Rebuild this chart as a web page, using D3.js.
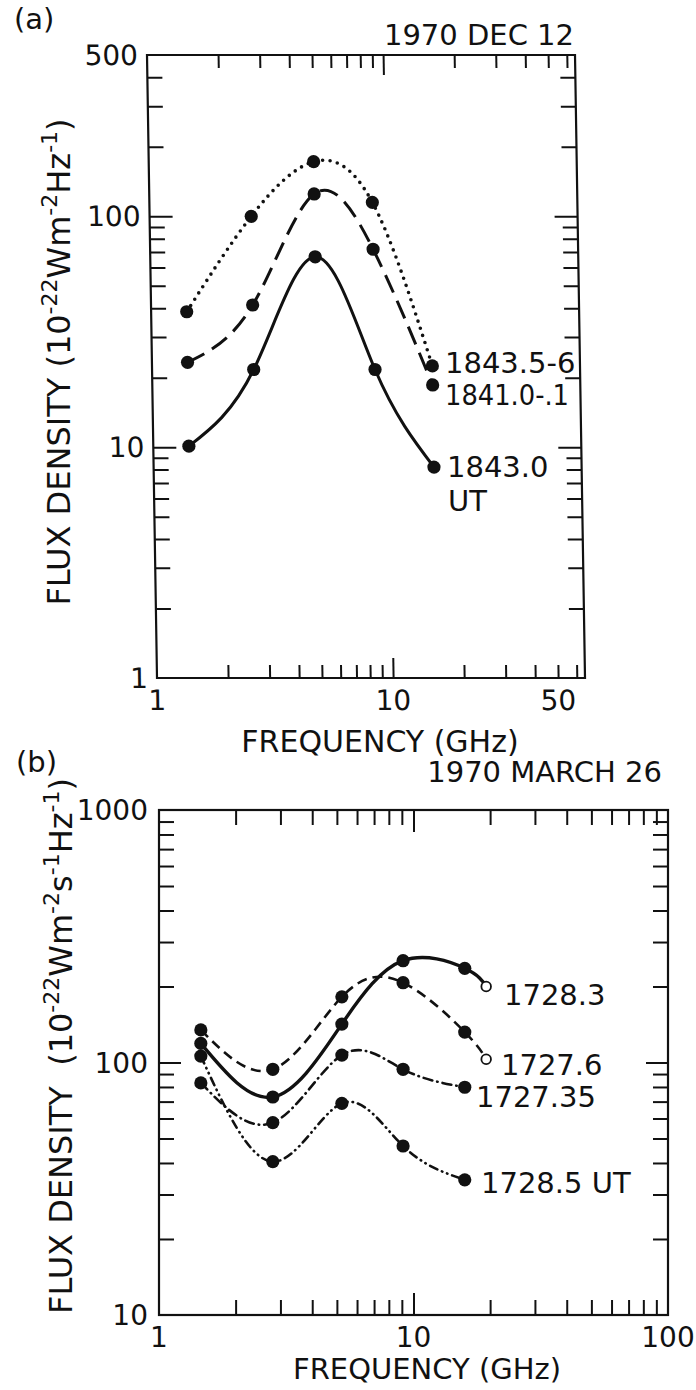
<!DOCTYPE html>
<html>
<head>
<meta charset="utf-8">
<script src="https://cdn.jsdelivr.net/npm/d3@7"></script>
<style>
  body { margin: 0; background: #fff; }
  svg { display: block; }
  text { font-family: "DejaVu Sans", "Liberation Sans", sans-serif; fill: #111; }
</style>
</head>
<body>
<div class="chart"></div>
<script>
// panel (a) 1970 Dec 12
var freqA = [1.415, 2.695, 4.995, 8.8, 15.4];
var flux1843_5 = [38.6, 100, 172.5, 115, 22.5];
var flux1841_0 = [23.3, 41.3, 125, 72, 18.6];
var flux1843_0 = [10.1, 21.7, 66.8, 21.7, 8.2];
var labelsA = ["1843.5-6", "1841.0-.1", "1843.0"];

// panel (b) 1970 March 26
var freqB = [1.46, 2.8, 5.23, 9.1, 15.9];
var freqBOpen = 19.3;
var flux1728_3 = [119, 73, 142, 253, 236];
var flux1727_6 = [134.6, 94, 182, 207, 132];
var flux1727_35 = [83, 57.8, 107, 94, 79.8];
var flux1728_5 = [106, 40.5, 68.9, 46.7, 34.3];
var open1728_3 = 200;
var open1727_6 = 103;
var labelsB = ["1728.3", "1727.6", "1727.35", "1728.5 UT"];

var xTicksA = [1, 10, 50];
var yTicksA = [1, 10, 100, 500];
var xTicksB = [1, 10, 100];
var yTicksB = [10, 100, 1000];

var svgWidth = 696;
var svgHeight = 1390;

var svg = d3.select(".chart")
  .append("svg")
  .attr("width", svgWidth)
  .attr("height", svgHeight);

function minors(lo, hi) {
  var out = [];
  for (var p = Math.floor(Math.log10(lo)); p <= Math.ceil(Math.log10(hi)); p++) {
    for (var m = 2; m <= 9; m++) {
      var v = m * Math.pow(10, p);
      if (v > lo * 1.0001 && v < hi * 0.9999) out.push(v);
    }
  }
  return out;
}

function decades(lo, hi) {
  var out = [];
  for (var p = Math.ceil(Math.log10(lo)); Math.pow(10, p) <= hi; p++) {
    var v = Math.pow(10, p);
    if (v > lo * 1.0001 && v < hi * 0.9999) out.push(v);
  }
  return out;
}

// inward ticks on all four sides
function drawFrame(g, x, y, w, h, minX, majX, minY, majY) {
  var xd = x.domain(), yd = y.domain();
  var sets = [
    [d3.axisBottom(x), minors(xd[0], xd[1]), -minX, "translate(0," + h + ")"],
    [d3.axisBottom(x), decades(xd[0], xd[1]), -majX, "translate(0," + h + ")"],
    [d3.axisTop(x), minors(xd[0], xd[1]), -minX, "translate(0,0)"],
    [d3.axisTop(x), decades(xd[0], xd[1]), -majX, "translate(0,0)"],
    [d3.axisLeft(y), minors(yd[0], yd[1]), -minY, "translate(0,0)"],
    [d3.axisLeft(y), decades(yd[0], yd[1]), -majY, "translate(0,0)"],
    [d3.axisRight(y), minors(yd[0], yd[1]), -minY, "translate(" + w + ",0)"],
    [d3.axisRight(y), decades(yd[0], yd[1]), -majY, "translate(" + w + ",0)"]
  ];
  sets.forEach(function(s) {
    var ax = g.append("g")
      .attr("transform", s[3])
      .call(s[0].tickValues(s[1]).tickSize(s[2]).tickFormat(""));
    ax.select(".domain").remove();
    ax.selectAll("line").attr("stroke", "#111").attr("stroke-width", 2);
  });
  g.append("rect")
    .attr("width", w)
    .attr("height", h)
    .attr("fill", "none")
    .attr("stroke", "#111")
    .attr("stroke-width", 2.2);
}

function drawSeries(g, x, y, freqs, vals, style) {
  var pts = freqs.map(function(f, i) { return [x(f), y(vals[i])]; });
  if (style.open) pts.push([x(style.open[0]), y(style.open[1])]);
  var line = d3.line().curve(d3.curveNatural);
  g.append("path")
    .attr("d", line(pts))
    .attr("fill", "none")
    .attr("stroke", "#111")
    .attr("stroke-width", style.width)
    .attr("stroke-dasharray", style.dash)
    .attr("stroke-linecap", style.cap || "butt");
  g.selectAll(null)
    .data(freqs)
    .enter()
    .append("circle")
    .attr("cx", function(d) { return x(d); })
    .attr("cy", function(d, i) { return y(vals[i]); })
    .attr("r", 6.6)
    .attr("fill", "#111");
  if (style.open) {
    g.append("circle")
      .attr("cx", x(style.open[0]))
      .attr("cy", y(style.open[1]))
      .attr("r", 4.8)
      .attr("fill", "#fff")
      .attr("stroke", "#111")
      .attr("stroke-width", 1.8);
  }
}

// ---------- panel (a) ----------
var wA = 428, hA = 623;
var xA = d3.scaleLog().domain([1, 65]).range([0, wA]);
var yA = d3.scaleLog().domain([1, 500]).range([hA, 0]);

// the scanned frame leans a little, so shear the whole plot
var gA = svg.append("g")
  .attr("transform", "translate(147,55) skewX(0.92)");

drawFrame(gA, xA, yA, wA, hA, 13, 20, 15, 23);

drawSeries(gA, xA, yA, freqA, flux1843_5, { width: 3.6, dash: "0 7.5", cap: "round" });
drawSeries(gA, xA, yA, freqA, flux1841_0, { width: 3, dash: "19 9" });
drawSeries(gA, xA, yA, freqA, flux1843_0, { width: 3 });

gA.selectAll(".ylab")
  .data(yTicksA)
  .enter()
  .append("text")
  .attr("x", -9)
  .attr("y", function(d) { return yA(d); })
  .attr("dy", "0.36em")
  .attr("text-anchor", "end")
  .attr("font-size", 28)
  .text(function(d) { return d; });

gA.selectAll(".xlab")
  .data(xTicksA)
  .enter()
  .append("text")
  .attr("x", function(d) { return xA(d); })
  .attr("y", hA + 32)
  .attr("text-anchor", "middle")
  .attr("font-size", 28)
  .text(function(d) { return d; });

svg.append("text").attr("x", 14).attr("y", 29).attr("font-size", 29).text("(a)");
svg.append("text").attr("x", 574).attr("y", 45).attr("text-anchor", "end")
  .attr("font-size", 29).text("1970 DEC 12");

svg.append("text").attr("x", 380).attr("y", 752).attr("text-anchor", "middle")
  .attr("font-size", 30).text("FREQUENCY (GHz)");

var curveLabA = svg.append("g").attr("font-size", 29);
curveLabA.append("text").attr("x", 445).attr("y", 373).text(labelsA[0]);
curveLabA.append("text").attr("x", 445).attr("y", 405)
  .attr("textLength", 124).attr("lengthAdjust", "spacingAndGlyphs")
  .text(labelsA[1]);
curveLabA.append("text").attr("x", 447).attr("y", 477).text(labelsA[2]);
curveLabA.append("text").attr("x", 448).attr("y", 511).text("UT");

var yTitleA = svg.append("text")
  .attr("transform", "translate(70,362) rotate(-90)")
  .attr("text-anchor", "middle")
  .attr("font-size", 32);
yTitleA.append("tspan").text("FLUX DENSITY (10");
yTitleA.append("tspan").attr("dy", -13).attr("font-size", 22).text("-22");
yTitleA.append("tspan").attr("dy", 13).text("Wm");
yTitleA.append("tspan").attr("dy", -13).attr("font-size", 22).text("-2");
yTitleA.append("tspan").attr("dy", 13).text("Hz");
yTitleA.append("tspan").attr("dy", -13).attr("font-size", 22).text("-1");
yTitleA.append("tspan").attr("dy", 13).text(")");

// ---------- panel (b) ----------
var wB = 509, hB = 505;
var xB = d3.scaleLog().domain([1, 100]).range([0, wB]);
var yB = d3.scaleLog().domain([10, 1000]).range([hB, 0]);

var gB = svg.append("g")
  .attr("transform", "translate(159,810)");

drawFrame(gB, xB, yB, wB, hB, 15, 22, 15, 22);

drawSeries(gB, xB, yB, freqB, flux1727_6, { width: 2.6, dash: "10 6", open: [freqBOpen, open1727_6] });
drawSeries(gB, xB, yB, freqB, flux1727_35, { width: 2.6, dash: "9 5 0.5 5", cap: "round" });
drawSeries(gB, xB, yB, freqB, flux1728_5, { width: 2.6, dash: "8 5 0.5 5 0.5 5", cap: "round" });
drawSeries(gB, xB, yB, freqB, flux1728_3, { width: 3.4, open: [freqBOpen, open1728_3] });

gB.selectAll(".ylab")
  .data(yTicksB)
  .enter()
  .append("text")
  .attr("x", -11)
  .attr("y", function(d) { return yB(d); })
  .attr("dy", "0.36em")
  .attr("text-anchor", "end")
  .attr("font-size", 28)
  .text(function(d) { return d; });

gB.selectAll(".xlab")
  .data(xTicksB)
  .enter()
  .append("text")
  .attr("x", function(d) { return xB(d); })
  .attr("y", hB + 32)
  .attr("text-anchor", "middle")
  .attr("font-size", 28)
  .text(function(d) { return d; });

svg.append("text").attr("x", 16).attr("y", 772).attr("font-size", 29).text("(b)");
svg.append("text").attr("x", 662).attr("y", 782).attr("text-anchor", "end")
  .attr("font-size", 29).text("1970 MARCH 26");

svg.append("text").attr("x", 427).attr("y", 1379).attr("text-anchor", "middle")
  .attr("font-size", 29).text("FREQUENCY (GHz)");

var curveLabB = svg.append("g").attr("font-size", 29);
curveLabB.append("text").attr("x", 504).attr("y", 1005).text(labelsB[0]);
curveLabB.append("text").attr("x", 501).attr("y", 1075).text(labelsB[1]);
curveLabB.append("text").attr("x", 476).attr("y", 1107).text(labelsB[2]);
curveLabB.append("text").attr("x", 481).attr("y", 1193).text(labelsB[3]);

var yTitleB = svg.append("text")
  .attr("transform", "translate(72,1046) rotate(-90)")
  .attr("text-anchor", "middle")
  .attr("font-size", 32)
  .style("white-space", "pre");
yTitleB.append("tspan").text("FLUX DENSITY  (10");
yTitleB.append("tspan").attr("dy", -13).attr("font-size", 22).text("-22");
yTitleB.append("tspan").attr("dy", 13).text("Wm");
yTitleB.append("tspan").attr("dy", -13).attr("font-size", 22).text("-2");
yTitleB.append("tspan").attr("dy", 13).text("s");
yTitleB.append("tspan").attr("dy", -13).attr("font-size", 22).text("-1");
yTitleB.append("tspan").attr("dy", 13).text("Hz");
yTitleB.append("tspan").attr("dy", -13).attr("font-size", 22).text("-1");
yTitleB.append("tspan").attr("dy", 13).text(")");
</script>
</body>
</html>
